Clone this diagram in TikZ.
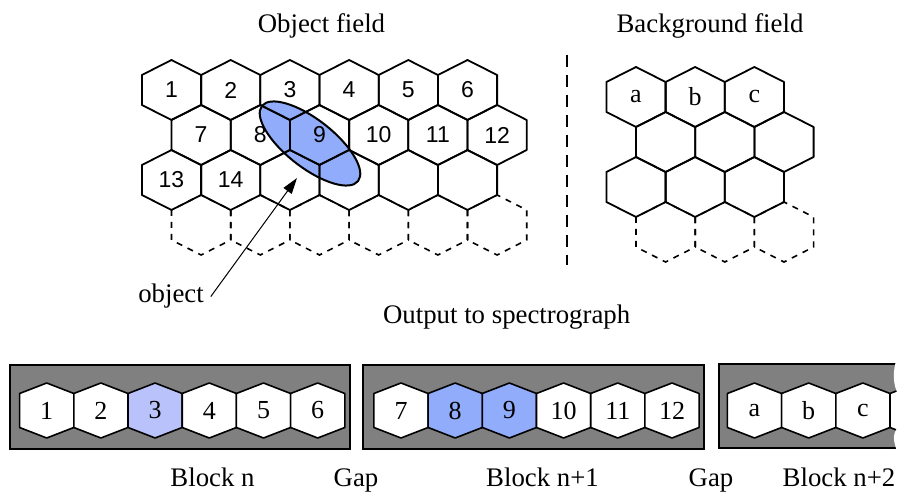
\documentclass[tikz,border=0pt]{standalone}
\usepackage{fontspec}
\setmainfont{Liberation Serif}
\newfontfamily\cellfont{Liberation Sans}
\usetikzlibrary{arrows.meta}

\definecolor{objblue}{RGB}{144,172,250}
\definecolor{paleblue}{RGB}{186,194,252}
\definecolor{blockgray}{RGB}{128,128,128}

\tikzset{
  cell/.pic={\path[pic actions] (-29.6,-15) -- (-29.6,15) -- (0,30) -- (29.6,15) -- (29.6,-15) -- (0,-30) -- cycle;},
  slot/.pic={\path[pic actions] (-27.1,-17) -- (-27.1,17) -- (0,27.5) -- (27.1,17) -- (27.1,-17) -- (0,-27.5) -- cycle;},
  title/.style={font=\fontsize{13.4}{16}\selectfont, anchor=base},
  cellnum/.style={font=\cellfont\fontsize{11.5}{14}\selectfont},
  slotnum/.style={font=\fontsize{13}{15}\selectfont},
  hexline/.style={draw, line width=0.9pt, line join=round},
  ghost/.style={draw, line width=0.8pt, dash pattern=on 3pt off 3pt},
  slotline/.style={draw, line width=0.8pt, line join=round},
}

\begin{document}
\begin{tikzpicture}[x=0.5pt, y=-0.5pt]
  \useasboundingbox (0,0) rectangle (902,497);

  % the object lying across the fibres
  \draw[fill=objblue, line width=1pt, rotate around={-38:(310,143.5)}]
    (310,143.5) ellipse [x radius=61, y radius=24];

  % object field
  \foreach \i in {0,...,5} {
    \pic[ghost] at (201.1+59.2*\i,225) {cell};
  }
  \foreach \i in {0,...,5} {
    \pic[hexline] at (171.5+59.2*\i,90) {cell};
    \pic[hexline] at (201.1+59.2*\i,135) {cell};
    \pic[hexline] at (171.5+59.2*\i,180) {cell};
  }

  % background field
  \foreach \i in {0,1,2} {
    \pic[ghost] at (665.6+59.2*\i,232) {cell};
  }
  \foreach \i in {0,1,2} {
    \pic[hexline] at (636+59.2*\i,97) {cell};
    \pic[hexline] at (665.6+59.2*\i,142) {cell};
    \pic[hexline] at (636+59.2*\i,187) {cell};
  }

  \begin{scope}[every node/.style={cellnum}]
    \node (o1)  at (171.5,90)  {1};
    \node (o2)  at (230.7,90)  {2};
    \node (o3)  at (289.9,90)  {3};
    \node (o4)  at (349.1,90)  {4};
    \node (o5)  at (408.3,90)  {5};
    \node (o6)  at (467.5,90)  {6};
    \node (o7)  at (201.1,135) {7};
    \node (o8)  at (260.3,135) {8};
    \node (o9)  at (319.5,135) {9};
    \node (o10) at (378.7,135) {10};
    \node (o11) at (437.9,135) {11};
    \node (o12) at (497.1,135) {12};
    \node (o13) at (171.5,180) {13};
    \node (o14) at (230.7,180) {14};
  \end{scope}

  \begin{scope}[every node/.style={slotnum}]
    \node (ba) at (636,97)   {a};
    \node (bb) at (695.2,97) {b};
    \node (bc) at (754.4,97) {c};
  \end{scope}

  \coordinate (divtop) at (567,55);
  \coordinate (divbot) at (567,265);
  \draw[line width=0.7pt, dash pattern=on 6pt off 4pt] (divtop) -- (divbot);

  \node[title] (objfield) at (321.5,33) {Object field};
  \node[title] (bgfield)  at (710,33)   {Background field};

  % pointer to the object
  \node[title] (obj) at (171,303) {object};
  \coordinate (tip) at (297,178);
  \draw[line width=0.5pt, -{Triangle[length=8pt,width=5pt]}] (obj.east) -- (tip);

  \node[title] (output) at (506.7,323.5) {Output to spectrograph};

  % blocks on the slit
  \draw[fill=blockgray, line width=0.6pt] (10,365) rectangle (350,449);
  \draw[fill=blockgray, line width=0.6pt] (363,365) rectangle (704,449);
  \fill[blockgray] (719,364) rectangle (915,448);
  \draw[line width=0.6pt] (915,364) -- (719,364) -- (719,448) -- (915,448);

  \foreach \x/\c in {46.7/white, 100.9/white, 155.1/paleblue, 209.3/white,
                     263.5/white, 317.7/white, 401/white, 455.2/objblue,
                     509.4/objblue, 563.6/white, 617.8/white, 672/white,
                     754.5/white, 808.7/white, 862.9/white, 917.1/white} {
    \pic[slotline, fill=\c] at (\x,410.5) {slot};
  }

  \begin{scope}[every node/.style={slotnum}]
    \node (s1)  at (46.7,410.5)  {1};
    \node (s2)  at (100.9,410.5) {2};
    \node (s3)  at (155.1,410.5) {3};
    \node (s4)  at (209.3,410.5) {4};
    \node (s5)  at (263.5,410.5) {5};
    \node (s6)  at (317.7,410.5) {6};
    \node (s7)  at (401,410.5)   {7};
    \node (s8)  at (455.2,410.5) {8};
    \node (s9)  at (509.4,410.5) {9};
    \node (s10) at (563.6,410.5) {10};
    \node (s11) at (617.8,410.5) {11};
    \node (s12) at (672,410.5)   {12};
    \node (sa)  at (754.5,410.5) {a};
    \node (sb)  at (808.7,410.5) {b};
    \node (sc)  at (862.9,410.5) {c};
  \end{scope}

  % torn end of the last block
  \fill[white] (897,358) .. controls (892,372) and (893,386) .. (899,396)
    .. controls (903,406) and (900,424) .. (895,432)
    .. controls (892,440) and (896,448) .. (899,456) -- (915,456) -- (915,358) -- cycle;

  \node[title] (blockn)  at (212.5,486.5) {Block n};
  \node[title] (gapa)    at (356,486.5)   {Gap};
  \node[title] (blocknn) at (542.5,486.5) {Block n+1};
  \node[title] (gapb)    at (711,486.5)   {Gap};
  \node[title] (blockne) at (839,486.5)   {Block n+2};

\end{tikzpicture}
\end{document}
